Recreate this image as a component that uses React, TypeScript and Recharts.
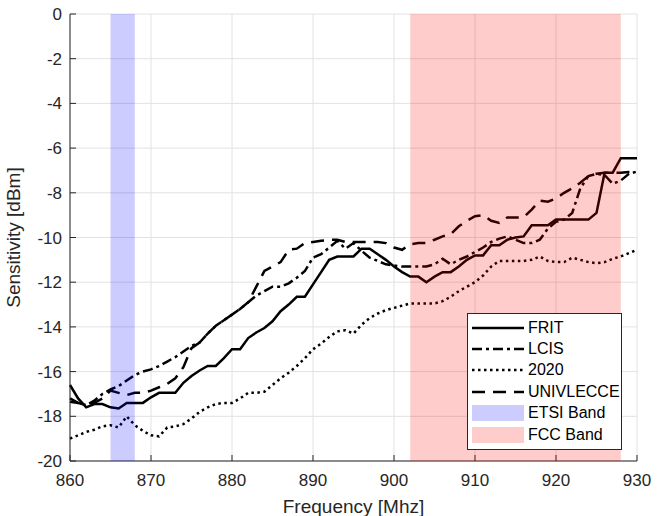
import React from 'react';
import { LineChart, Line, XAxis, YAxis, CartesianGrid, ReferenceArea, Legend, Label } from 'recharts';

const frequency = [
  860, 861, 862, 863, 864, 865, 866, 867, 868, 869,
  870, 871, 872, 873, 874, 875, 876, 877, 878, 879,
  880, 881, 882, 883, 884, 885, 886, 887, 888, 889,
  890, 891, 892, 893, 894, 895, 896, 897, 898, 899,
  900, 901, 902, 903, 904, 905, 906, 907, 908, 909,
  910, 911, 912, 913, 914, 915, 916, 917, 918, 919,
  920, 921, 922, 923, 924, 925, 926, 927, 928, 929,
  930,
];

const frit = [
  -16.6, -17.2, -17.6, -17.45, -17.45, -17.6, -17.65, -17.4, -17.4, -17.4,
  -17.15, -16.95, -16.95, -16.95, -16.5, -16.2, -15.95, -15.75, -15.75, -15.4,
  -15.0, -15.0, -14.5, -14.25, -14.05, -13.75, -13.3, -13.0, -12.65, -12.65,
  -12.1, -11.55, -11.0, -10.85, -10.85, -10.85, -10.5, -10.5, -10.75, -11.0,
  -11.3, -11.55, -11.75, -11.75, -12.0, -11.75, -11.55, -11.55, -11.3, -11.0,
  -10.8, -10.8, -10.35, -10.35, -10.1, -10.0, -9.95, -9.45, -9.45, -9.45,
  -9.2, -9.2, -9.2, -9.2, -9.2, -8.9, -7.1, -7.1, -6.45, -6.45,
  -6.45,
];

const lcis = [
  -17.2, -17.4, -17.5, -17.3, -17.0, -16.8, -16.65, -16.4, -16.15, -16.0,
  -15.9, -15.75, -15.55, -15.35, -15.1, -14.85, -14.7, -14.3, -13.95, -13.7,
  -13.45, -13.2, -12.9, -12.6, -12.4, -12.2, -12.2, -12.05, -11.8, -11.5,
  -10.9, -10.75, -10.45, -10.15, -10.5, -10.25, -10.6, -10.9, -11.05, -11.2,
  -11.25, -11.3, -11.3, -11.3, -11.3, -11.2, -10.95, -11.2, -11.0, -10.85,
  -10.65, -10.45, -10.2, -10.05, -9.95, -10.1, -10.25, -10.25, -10.1, -9.6,
  -9.3, -9.2, -8.9, -7.8, -7.25, -7.15, -7.2, -7.6, -7.45, -7.15,
  -7.05,
];

const series2020 = [
  -19.0, -18.85, -18.7, -18.6, -18.45, -18.4, -18.5, -18.0, -18.4, -18.65,
  -18.85, -18.9, -18.5, -18.45, -18.35, -18.1, -17.8, -17.6, -17.45, -17.4,
  -17.4, -17.2, -16.95, -16.95, -16.9, -16.6, -16.3, -16.05, -15.75, -15.4,
  -15.0, -14.75, -14.45, -14.2, -14.15, -14.3, -13.9, -13.6, -13.4, -13.25,
  -13.15, -13.05, -12.95, -12.95, -12.95, -12.95, -12.85, -12.65, -12.4, -12.2,
  -12.0, -11.7, -11.3, -11.05, -11.05, -11.05, -11.05, -11.0, -10.85, -11.05,
  -11.1, -11.1, -10.9, -11.0, -11.1, -11.15, -11.1, -10.95, -10.85, -10.7,
  -10.55,
];

const univlecce = [
  -17.35, -17.4, -17.5, -17.4, -17.2, -16.85, -16.95, -17.05, -16.95, -16.95,
  -16.85, -16.7, -16.55, -16.3, -15.8, -14.95, -14.7, -14.3, -13.95, -13.7,
  -13.45, -13.2, -12.9, -12.2, -11.5, -11.3, -11.1, -10.55, -10.5, -10.25,
  -10.2, -10.15, -10.1, -10.1, -10.2, -10.2, -10.2, -10.2, -10.2, -10.25,
  -10.45, -10.55, -10.3, -10.25, -10.25, -10.1, -9.95, -9.85, -9.5, -9.25,
  -9.05, -9.0, -9.25, -9.35, -9.1, -9.1, -9.1, -8.75, -8.35, -8.4,
  -8.25, -8.0, -7.8, -7.55, -7.25, -7.15, -7.1, -7.1, -7.1, -7.07,
  -7.05,
];

const xTicks = [860, 870, 880, 890, 900, 910, 920, 930];
const yTicks = [-20, -18, -16, -14, -12, -10, -8, -6, -4, -2, 0];
const etsiBand = [865, 868];
const fccBand = [902, 928];

const chartData = frequency.map((f, i) => ({
  f,
  FRIT: frit[i],
  LCIS: lcis[i],
  '2020': series2020[i],
  UNIVLECCE: univlecce[i],
}));

const FONT = '"Liberation Sans", Arial, Helvetica, sans-serif';
const AXIS_COLOR = '#262626';

const lineStyles = [
  { key: 'FRIT', dash: undefined },
  { key: 'LCIS', dash: '10 4 3 4' },
  { key: '2020', dash: '2.5 3.5' },
  { key: 'UNIVLECCE', dash: '13 8' },
];

const patches = [
  { name: 'ETSI Band', color: '#0000ff' },
  { name: 'FCC Band', color: '#ff0000' },
];

const renderLegend = () => (
  <div
    style={{
      border: `1px solid ${AXIS_COLOR}`,
      background: '#fff',
      width: 153,
      padding: '3px 0 4px 0',
      fontFamily: FONT,
      fontSize: 16,
      color: '#000',
      boxSizing: 'content-box',
    }}
  >
    {lineStyles.map((s) => (
      <div key={s.key} style={{ display: 'flex', alignItems: 'center', height: 21.4 }}>
        <svg width={60} height={16} style={{ flex: 'none' }}>
          <line x1={4} x2={56} y1={8} y2={8} stroke="#000" strokeWidth={2.5} strokeDasharray={s.dash} />
        </svg>
        <span>{s.key}</span>
      </div>
    ))}
    {patches.map((p) => (
      <div key={p.name} style={{ display: 'flex', alignItems: 'center', height: 21.4 }}>
        <svg width={60} height={16} style={{ flex: 'none' }}>
          <rect x={4} y={0} width={52} height={16} fill={p.color} fillOpacity={0.2} />
        </svg>
        <span>{p.name}</span>
      </div>
    ))}
  </div>
);

const tickStyle = { fontSize: 17, fontFamily: FONT, fill: AXIS_COLOR };
const labelStyle = { fontSize: 19, fontFamily: FONT, fill: AXIS_COLOR };

export default function App() {
  return (
    <div style={{ position: 'absolute', left: 0, top: 0, background: '#fff' }}>
      <LineChart width={665} height={516} data={chartData} margin={{ top: 14, right: 28, bottom: 0, left: 0 }}>
        <CartesianGrid stroke="#e2e2e2" strokeWidth={1} />
        <XAxis
          dataKey="f"
          type="number"
          domain={[860, 930]}
          ticks={xTicks}
          height={55}
          tickSize={-6}
          tickMargin={19}
          stroke={AXIS_COLOR}
          tick={tickStyle}
        >
          <Label value="Frequency [Mhz]" position="insideBottom" offset={3} style={labelStyle} />
        </XAxis>
        <XAxis
          xAxisId="top"
          orientation="top"
          type="number"
          domain={[860, 930]}
          ticks={xTicks}
          height={0}
          tickSize={-6}
          tickFormatter={() => ''}
          stroke={AXIS_COLOR}
        />
        <YAxis
          type="number"
          domain={[-20, 0]}
          ticks={yTicks}
          width={70}
          tickSize={-6}
          tickMargin={14}
          stroke={AXIS_COLOR}
          tick={tickStyle}
        >
          <Label
            value="Sensitivity [dBm]"
            angle={-90}
            position="center"
            dx={-22}
            style={{ ...labelStyle, textAnchor: 'middle' }}
          />
        </YAxis>
        <YAxis
          yAxisId="right"
          orientation="right"
          type="number"
          domain={[-20, 0]}
          ticks={yTicks}
          width={0}
          tickSize={-6}
          tickFormatter={() => ''}
          stroke={AXIS_COLOR}
        />
        {lineStyles.map((s) => (
          <Line
            key={s.key}
            type="linear"
            dataKey={s.key}
            stroke="#000"
            strokeWidth={2.5}
            strokeDasharray={s.dash}
            dot={false}
            isAnimationActive={false}
          />
        ))}
        <ReferenceArea x1={etsiBand[0]} x2={etsiBand[1]} fill="#0000ff" fillOpacity={0.2} stroke="none" zIndex={1000} />
        <ReferenceArea x1={fccBand[0]} x2={fccBand[1]} fill="#ff0000" fillOpacity={0.2} stroke="none" zIndex={1000} />
        <Legend
          layout="vertical"
          align="center"
          verticalAlign="middle"
          content={renderLegend}
          wrapperStyle={{ left: 467, top: 313, width: 155 }}
        />
      </LineChart>
    </div>
  );
}
